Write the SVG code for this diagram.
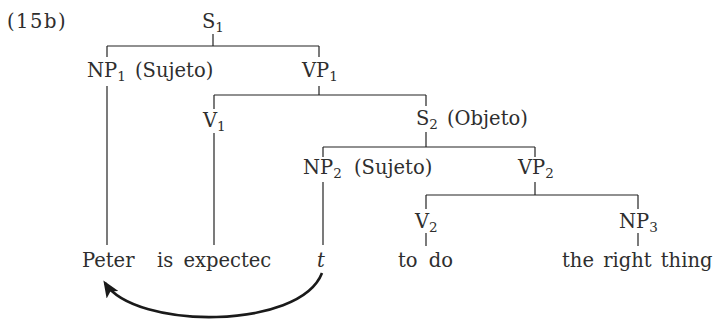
<svg xmlns="http://www.w3.org/2000/svg" width="717" height="326" viewBox="0 0 717 326">
<style>
text{font-family:"DejaVu Serif","Liberation Serif",serif;font-size:19.5px;fill:#2e2e2e;}
.sub{font-size:13.5px;}
.tree line{stroke:#222;stroke-width:1.2;}
.arc{fill:none;stroke:#1a1a1a;stroke-width:2.6;}
</style>
<defs>
<marker id="ah" markerWidth="18" markerHeight="14" refX="14" refY="7" orient="auto" markerUnits="userSpaceOnUse">
<path d="M0,0 L17,7 L0,14 L4,7 Z" fill="#1a1a1a"/>
</marker>
</defs>
<rect width="717" height="326" fill="#fff"/>
<text x="7" y="28" letter-spacing="1.5">(15b)</text>
<g class="tree" id="connectors">
<line x1="213" y1="34" x2="213" y2="46"/>
<line x1="107" y1="46" x2="319" y2="46"/>
<line x1="107" y1="46" x2="107" y2="57"/>
<line x1="319" y1="46" x2="319" y2="57"/>
<line x1="107" y1="86" x2="107" y2="245"/>
<line x1="319" y1="86" x2="319" y2="95"/>
<line x1="214" y1="95" x2="426" y2="95"/>
<line x1="214" y1="95" x2="214" y2="109"/>
<line x1="426" y1="95" x2="426" y2="106"/>
<line x1="214" y1="133" x2="214" y2="245"/>
<line x1="426" y1="132" x2="426" y2="147"/>
<line x1="323" y1="147" x2="535" y2="147"/>
<line x1="323" y1="147" x2="323" y2="157"/>
<line x1="535" y1="147" x2="535" y2="157"/>
<line x1="323" y1="182" x2="323" y2="245"/>
<line x1="535" y1="182" x2="535" y2="195"/>
<line x1="426" y1="195" x2="638" y2="195"/>
<line x1="426" y1="195" x2="426" y2="209"/>
<line x1="638" y1="195" x2="638" y2="209"/>
<line x1="426" y1="233" x2="426" y2="246"/>
<line x1="638" y1="233" x2="638" y2="246"/>
<path class="arc" d="M322,273 C300,330 135,330 105,283" marker-end="url(#ah)"/>
</g>
<g id="S1"><text x="202" y="28">S<tspan class="sub" dy="4">1</tspan></text></g>
<g id="NP1"><text x="87" y="77">NP<tspan class="sub" dy="4">1</tspan><tspan dy="-4" x="135">(Sujeto)</tspan></text></g>
<g id="VP1"><text x="302" y="77">VP<tspan class="sub" dy="4">1</tspan></text></g>
<g id="V1"><text x="203" y="127">V<tspan class="sub" dy="4">1</tspan></text></g>
<g id="S2"><text x="416" y="125">S<tspan class="sub" dy="4">2</tspan><tspan dy="-4" x="447">(Objeto)</tspan></text></g>
<g id="NP2"><text x="303" y="174">NP<tspan class="sub" dy="4">2</tspan><tspan dy="-4" x="354">(Sujeto)</tspan></text></g>
<g id="VP2"><text x="518" y="174">VP<tspan class="sub" dy="4">2</tspan></text></g>
<g id="V2"><text x="415" y="228">V<tspan class="sub" dy="4">2</tspan></text></g>
<g id="NP3"><text x="619" y="228">NP<tspan class="sub" dy="4">3</tspan></text></g>
<g id="Peter"><text x="82" y="267">Peter</text></g>
<g id="isexpected"><text x="157" y="267" word-spacing="4">is expectec</text></g>
<g id="t"><text x="317" y="267" font-style="italic">t</text></g>
<g id="todo"><text x="398" y="267" word-spacing="5">to do</text></g>
<g id="therightthing"><text x="562" y="267" word-spacing="3">the right thing</text></g>
</svg>
